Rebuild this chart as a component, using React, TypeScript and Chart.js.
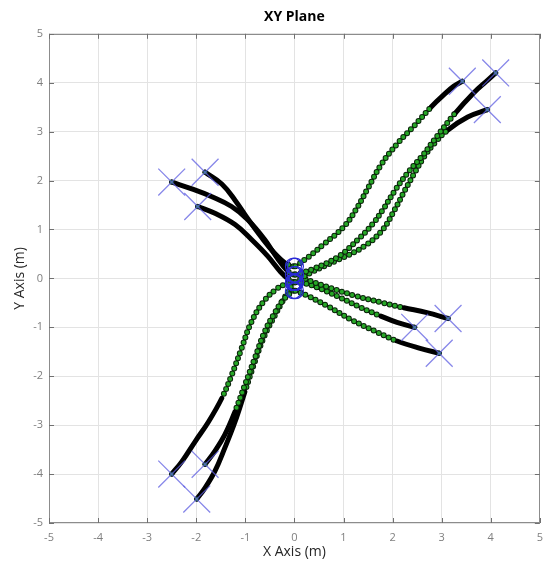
import React, { useEffect, useRef } from "react";
import { Chart, registerables } from "chart.js";

Chart.register(...registerables);

type Pt = [number, number];

// Axis ticks
const axisTicks: number[] = [-5, -4, -3, -2, -1, 0, 1, 2, 3, 4, 5];

// Trajectories (x, y) in metres
const pathUR1: Pt[] = [[0.02, 0.25], [0.3, 0.45], [0.6, 0.7], [1.0, 1.05], [1.25, 1.4], [1.5, 1.85], [1.77, 2.33], [2.1, 2.76], [2.45, 3.13], [2.78, 3.5], [3.05, 3.76], [3.25, 3.93], [3.42, 4.03]];
const pathUR2: Pt[] = [[0.02, 0.08], [0.4, 0.2], [0.9, 0.45], [1.3, 0.8], [1.6, 1.12], [1.8, 1.4], [2.05, 1.8], [2.3, 2.15], [2.6, 2.5], [2.9, 2.9], [3.26, 3.36], [3.66, 3.8], [3.9, 4.02], [4.1, 4.2]];
const pathUR3: Pt[] = [[0.02, -0.08], [0.3, 0.1], [0.89, 0.38], [1.43, 0.66], [1.8, 1.0], [2.04, 1.4], [2.25, 1.8], [2.45, 2.16], [2.65, 2.5], [2.85, 2.76], [3.12, 3.03], [3.53, 3.3], [3.93, 3.45]];
const pathUL1: Pt[] = [[-0.02, 0.08], [-0.14, 0.15], [-0.34, 0.4], [-0.61, 0.8], [-0.95, 1.2], [-1.28, 1.47], [-1.68, 1.67], [-2.09, 1.83], [-2.5, 1.97]];
const pathUL2: Pt[] = [[-0.02, 0.25], [-0.17, 0.3], [-0.41, 0.52], [-0.68, 0.85], [-0.95, 1.22], [-1.21, 1.6], [-1.48, 1.93], [-1.82, 2.17]];
const pathUL3: Pt[] = [[-0.02, -0.08], [-0.12, -0.02], [-0.28, 0.13], [-0.54, 0.45], [-0.88, 0.8], [-1.21, 1.1], [-1.62, 1.33], [-1.97, 1.47]];
const pathLR1: Pt[] = [[0.02, 0.08], [0.35, -0.06], [0.75, -0.2], [1.22, -0.35], [1.76, -0.49], [2.23, -0.6], [2.7, -0.7], [3.13, -0.82]];
const pathLR2: Pt[] = [[0.02, -0.08], [0.21, -0.1], [0.55, -0.22], [0.95, -0.4], [1.36, -0.6], [1.76, -0.77], [2.09, -0.9], [2.45, -1.0]];
const pathLR3: Pt[] = [[0.02, -0.25], [0.28, -0.36], [0.68, -0.57], [1.15, -0.84], [1.62, -1.07], [2.09, -1.28], [2.56, -1.43], [2.95, -1.53]];
const pathLL1: Pt[] = [[-0.02, -0.08], [-0.14, -0.1], [-0.34, -0.2], [-0.61, -0.45], [-0.88, -0.9], [-1.08, -1.44], [-1.28, -1.98], [-1.48, -2.45], [-1.75, -2.93], [-2.02, -3.33], [-2.29, -3.74], [-2.5, -4.0]];
const pathLL2: Pt[] = [[-0.02, -0.25], [-0.21, -0.42], [-0.41, -0.72], [-0.61, -1.1], [-0.81, -1.64], [-1.01, -2.18], [-1.21, -2.72], [-1.42, -3.2], [-1.62, -3.53], [-1.82, -3.8]];
const pathLL3: Pt[] = [[-0.02, -0.08], [-0.1, -0.22], [-0.25, -0.48], [-0.41, -0.78], [-0.61, -1.17], [-0.81, -1.71], [-1.01, -2.32], [-1.21, -2.93], [-1.42, -3.47], [-1.62, -3.94], [-1.82, -4.28], [-1.99, -4.51]];

// Index of the waypoint where the dense (slow, black) part begins
const denseUR: number[] = [9, 10, 10];
const denseUL: number[] = [1, 1, 1];
const denseLR: number[] = [5, 5, 5];
const denseLL: number[] = [7, 6, 6];

const FONT = "'Open Sans', 'Noto Sans', sans-serif";
const GREEN = "#27a827";
const DARK = "#0b250b";

const framePlugin = {
  id: "matlabFrame",
  afterDatasetsDraw(chart: any) {
    const { ctx, chartArea: a, scales } = chart;
    const x = scales.x;
    const y = scales.y;
    ctx.save();
    ctx.strokeStyle = "#8c8c8c";
    ctx.lineWidth = 1;
    ctx.strokeRect(Math.round(a.left) + 0.5, Math.round(a.top) + 0.5, Math.round(a.right - a.left) - 1, Math.round(a.bottom - a.top) - 1);
    ctx.strokeStyle = "#707070";
    ctx.beginPath();
    const L = 5;
    for (const v of axisTicks) {
      const px = Math.round(x.getPixelForValue(v)) + 0.5;
      ctx.moveTo(px, a.bottom);
      ctx.lineTo(px, a.bottom - L);
      ctx.moveTo(px, a.top);
      ctx.lineTo(px, a.top + L);
      const py = Math.round(y.getPixelForValue(v)) + 0.5;
      ctx.moveTo(a.left, py);
      ctx.lineTo(a.left + L, py);
      ctx.moveTo(a.right, py);
      ctx.lineTo(a.right - L, py);
    }
    ctx.stroke();
    ctx.restore();
  },
};

export default function App() {
  const ref = useRef<HTMLCanvasElement | null>(null);

  useEffect(() => {
    if (!ref.current) return;
    const trajectories: { path: Pt[]; dense: number }[] = [
      { path: pathUR1, dense: denseUR[0] },
      { path: pathUR2, dense: denseUR[1] },
      { path: pathUR3, dense: denseUR[2] },
      { path: pathUL1, dense: denseUL[0] },
      { path: pathUL2, dense: denseUL[1] },
      { path: pathUL3, dense: denseUL[2] },
      { path: pathLR1, dense: denseLR[0] },
      { path: pathLR2, dense: denseLR[1] },
      { path: pathLR3, dense: denseLR[2] },
      { path: pathLL1, dense: denseLL[0] },
      { path: pathLL2, dense: denseLL[1] },
      { path: pathLL3, dense: denseLL[2] },
    ];

    const datasets: any[] = [];
    const starts = trajectories.map((t) => ({ x: t.path[0][0], y: t.path[0][1] }));
    const ends = trajectories.map((t) => ({ x: t.path[t.path.length - 1][0], y: t.path[t.path.length - 1][1] }));

    datasets.push({
      label: "targets",
      data: ends,
      pointStyle: "crossRot",
      pointRadius: 19,
      borderColor: "rgba(95,95,225,0.75)",
      borderWidth: 1.3,
      backgroundColor: "rgba(0,0,0,0)",
      showLine: false,
      order: 0,
    });
    datasets.push({
      label: "endDots",
      data: ends,
      pointStyle: "circle",
      pointRadius: 2.2,
      borderColor: "#123",
      borderWidth: 1,
      backgroundColor: "#2a8a3a",
      showLine: false,
      order: 1,
    });
    datasets.push({
      label: "starts",
      data: starts,
      pointStyle: "circle",
      pointRadius: 8,
      borderColor: "#2a2ad6",
      borderWidth: 1.2,
      backgroundColor: "rgba(0,0,0,0)",
      showLine: false,
      order: 1,
    });

    trajectories.forEach((t, k) => {
      const data = t.path.map(([x, y]) => ({ x, y }));
      const dense = t.dense;
      datasets.push({
        label: "fill" + k,
        data,
        showLine: true,
        pointRadius: 0,
        borderColor: GREEN,
        borderWidth: 4,
        borderDash: [0, 5.5],
        borderCapStyle: "round",
        borderJoinStyle: "round",
        tension: 0.4,
        segment: {
          borderColor: (c: any) => (c.p0DataIndex >= dense ? "rgba(0,0,0,0)" : undefined),
        },
        order: 2 + 2 * k,
      });
      datasets.push({
        label: "outline" + k,
        data,
        showLine: true,
        pointRadius: 0,
        borderColor: DARK,
        borderWidth: 6,
        borderDash: [0, 5.5],
        borderCapStyle: "round",
        borderJoinStyle: "round",
        tension: 0.4,
        segment: {
          borderDash: (c: any) => (c.p0DataIndex >= dense ? [] : undefined),
          borderColor: (c: any) => (c.p0DataIndex >= dense ? "#000000" : undefined),
          borderWidth: (c: any) => (c.p0DataIndex >= dense ? 5 : undefined),
        },
        order: 3 + 2 * k,
      });
    });

    const chart = new Chart(ref.current, {
      type: "scatter",
      data: { datasets },
      plugins: [framePlugin],
      options: {
        animation: false,
        responsive: false,
        devicePixelRatio: 1,
        events: [],
        layout: { autoPadding: false, padding: { left: 0, right: 10, top: 0, bottom: 0 } },
        plugins: {
          legend: { display: false },
          tooltip: { enabled: false },
          title: {
            display: true,
            text: "XY Plane",
            fullSize: false,
            color: "#000000",
            font: { family: FONT, size: 14, weight: "bold" },
            padding: { top: 9, bottom: 8 },
          },
        },
        scales: {
          x: {
            type: "linear",
            min: -5,
            max: 5,
            afterFit: (s: any) => {
              s.height = 42;
            },
            afterBuildTicks: (s: any) => {
              s.ticks = axisTicks.map((v) => ({ value: v }));
            },
            ticks: {
              color: "#7f7f7f",
              font: { family: FONT, size: 11 },
              padding: 8,
              maxRotation: 0,
            },
            grid: { color: "#e3e3e3", drawTicks: false, lineWidth: 1 },
            border: { display: false },
            title: {
              display: true,
              text: "X Axis (m)",
              color: "#262626",
              font: { family: FONT, size: 14 },
              padding: { top: 0, bottom: 5 },
            },
          },
          y: {
            type: "linear",
            min: -5,
            max: 5,
            afterFit: (s: any) => {
              s.width = 49;
            },
            afterBuildTicks: (s: any) => {
              s.ticks = axisTicks.map((v) => ({ value: v }));
            },
            ticks: {
              color: "#7f7f7f",
              font: { family: FONT, size: 11 },
              padding: 6,
            },
            grid: { color: "#e3e3e3", drawTicks: false, lineWidth: 1 },
            border: { display: false },
            title: {
              display: true,
              text: "Y Axis (m)",
              color: "#262626",
              font: { family: FONT, size: 14 },
              padding: { top: 12, bottom: 0 },
            },
          },
        },
      } as any,
    });
    return () => chart.destroy();
  }, []);

  return (
    <div style={{ position: "fixed", left: 0, top: 0, width: 551, height: 565, background: "#ffffff" }}>
      <canvas ref={ref} width={551} height={565} style={{ display: "block" }} />
    </div>
  );
}
